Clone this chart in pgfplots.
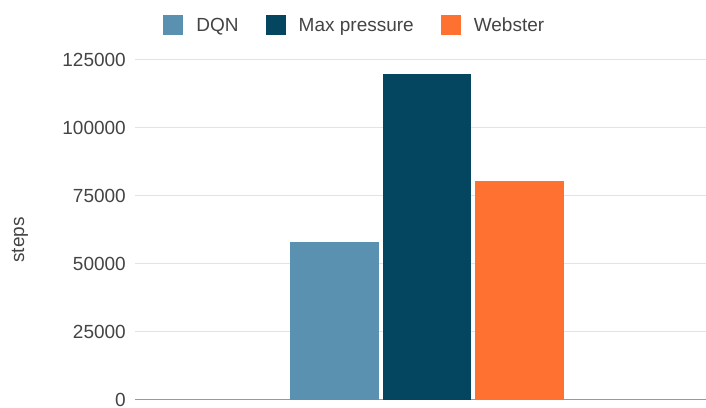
\documentclass[border=0pt]{standalone}
\usepackage{pgfplots}
\pgfplotsset{compat=1.18}
\usepackage{fontspec}
\setmainfont{Liberation Sans}

\definecolor{dqnblue}{HTML}{5A91B0}
\definecolor{maxnavy}{HTML}{04455F}
\definecolor{webster}{HTML}{FF7131}
\definecolor{labelgray}{HTML}{444444}
\definecolor{gridgray}{HTML}{E3E3E3}
\definecolor{basegray}{HTML}{999999}

\pgfplotsset{
  sqlegend/.style={legend image code/.code={
    \fill[##1,draw=none] (0bp,-10bp) rectangle (20bp,10bp);}},
}

\begin{document}
\begin{tikzpicture}
\path[use as bounding box] (0,0) rectangle (706bp,408bp);
\begin{axis}[
  at={(135bp,8.5bp)}, anchor=south west,
  scale only axis,
  width=571bp, height=340bp,
  ybar=4bp, bar width=88.5bp,
  xmin=-1, xmax=0.955,
  ymin=0, ymax=125000,
  enlargelimits=false,
  xtick=\empty,
  ytick={0,25000,50000,75000,100000,125000},
  scaled y ticks=false,
  extra y ticks={0},
  extra y tick labels={},
  extra y tick style={grid style={basegray, line width=1.8bp}},
  ymajorgrids,
  grid style={gridgray, line width=1.4bp},
  axis line style={draw=none},
  major tick length=0pt,
  font=\fontsize{19bp}{22bp}\selectfont,
  /pgf/number format/assume math mode=true,
  /pgf/number format/1000 sep={},
  yticklabel style={text=labelgray, inner sep=0pt, xshift=-9bp,
    /pgf/number format/fixed, /pgf/number format/precision=0},
  ylabel={steps},
  every axis y label/.style={at={(rel axis cs:-0.2014,0.469)}, rotate=90, anchor=center, text=labelgray},
  legend columns=3,
  legend style={
    at={(rel axis cs:0.0499,1.1)}, anchor=west,
    draw=none, fill=none, inner sep=0pt, outer sep=0pt,
    text=labelgray,
    nodes={inner sep=0pt, anchor=west},
    /tikz/every odd column/.style={column sep=13bp},
    /tikz/every even column/.style={column sep=27bp},
  },
]
\addplot[fill=dqnblue, draw=none, sqlegend] coordinates {(0,57800)};
\addplot[fill=maxnavy, draw=none, sqlegend] coordinates {(0,119600)};
\addplot[fill=webster, draw=none, sqlegend] coordinates {(0,80200)};
\legend{DQN, Max pressure, Webster}
\end{axis}
\end{tikzpicture}
\end{document}
